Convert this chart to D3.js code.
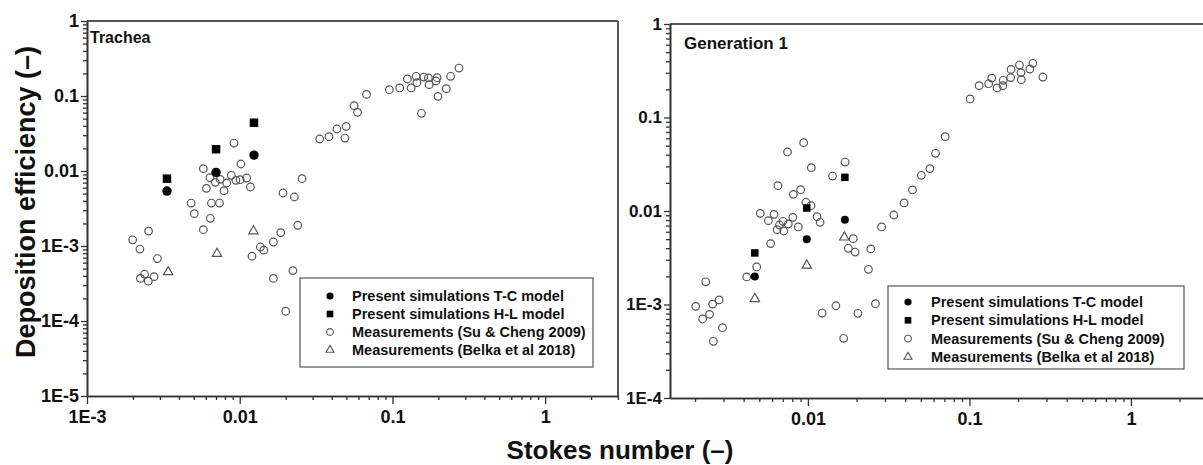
<!DOCTYPE html>
<html>
<head>
<meta charset="utf-8">
<script src="https://cdn.jsdelivr.net/npm/d3@7"></script>
<style>
  body { margin: 0; background: #fff; }
  svg { display: block; font-family: "Liberation Sans", Arial, sans-serif; font-weight: bold; }
</style>
</head>
<body>
<svg id="chart" width="1203" height="465"></svg>
<script>
// ---- data (Stokes number, deposition efficiency) ----
const tracheaTC = [[0.00334, 0.0054], [0.0070, 0.0096], [0.0124, 0.0163]];
const tracheaHL = [[0.00334, 0.0079], [0.0070, 0.0195], [0.0124, 0.044]];
const tracheaBelka = [[0.0034, 0.00045], [0.0071, 0.00079], [0.0123, 0.00158]];
const tracheaSu = [
  [0.00199, 0.00121], [0.00222, 0.00091], [0.00253, 0.00158], [0.00289, 0.00068],
  [0.00238, 0.00042], [0.00224, 0.00037], [0.00252, 0.00034], [0.00275, 0.00039],
  [0.00481, 0.00374], [0.00504, 0.0027], [0.00578, 0.01074], [0.00605, 0.00587],
  [0.00638, 0.00815], [0.00653, 0.00374], [0.00642, 0.00234], [0.00578, 0.00165],
  [0.00692, 0.00706], [0.00745, 0.00774], [0.00737, 0.00374], [0.00789, 0.00547],
  [0.00822, 0.00692], [0.00881, 0.00876], [0.00917, 0.0236], [0.00944, 0.00751],
  [0.01018, 0.0124], [0.01007, 0.00766], [0.0111, 0.00806], [0.01175, 0.00612],
  [0.01203, 0.00073], [0.01365, 0.00097], [0.01438, 0.00088], [0.01662, 0.00113],
  [0.01855, 0.00151], [0.0192, 0.00509], [0.0228, 0.0045], [0.024, 0.00189],
  [0.0256, 0.0079], [0.01662, 0.00037], [0.0223, 0.00047], [0.02, 0.000135],
  [0.0334, 0.0267], [0.0384, 0.0287], [0.0433, 0.0363], [0.0489, 0.0275],
  [0.0498, 0.0394], [0.0561, 0.0743], [0.0591, 0.0605], [0.0676, 0.105],
  [0.0955, 0.1214], [0.1116, 0.128], [0.1253, 0.1686], [0.1327, 0.128],
  [0.143, 0.183], [0.1446, 0.1507], [0.1603, 0.179], [0.172, 0.174],
  [0.174, 0.1416], [0.196, 0.1755], [0.193, 0.1585], [0.1987, 0.099],
  [0.155, 0.0588], [0.2254, 0.1253], [0.2404, 0.183], [0.273, 0.236]
];

const gen1TC = [[0.00469, 0.00199], [0.00984, 0.00498], [0.01694, 0.00808]];
const gen1HL = [[0.00469, 0.00356], [0.00984, 0.01076], [0.01694, 0.0229]];
const gen1Belka = [[0.00469, 0.00115], [0.00984, 0.00262], [0.0168, 0.00523]];
const gen1Su = [
  [0.00202, 0.000955], [0.00223, 0.0007], [0.00233, 0.00175], [0.00246, 0.000785],
  [0.00257, 0.00101], [0.00282, 0.00112], [0.0026, 0.000404], [0.00296, 0.000565],
  [0.00418, 0.00197], [0.00482, 0.00252], [0.00507, 0.00944], [0.00569, 0.00788],
  [0.00588, 0.00448], [0.00617, 0.00921], [0.00652, 0.01866], [0.00645, 0.00631],
  [0.00667, 0.00708], [0.007, 0.00776], [0.00708, 0.00611], [0.00748, 0.0428],
  [0.00756, 0.00726], [0.00807, 0.00855], [0.00812, 0.01507], [0.00872, 0.00675],
  [0.00901, 0.0169], [0.00941, 0.0538], [0.00973, 0.0124], [0.01045, 0.0114],
  [0.0105, 0.0291], [0.0114, 0.00869], [0.0119, 0.00757], [0.01225, 0.00081],
  [0.0142, 0.02366], [0.0149, 0.00097], [0.017, 0.0334], [0.01665, 0.000435],
  [0.0178, 0.00399], [0.0191, 0.00506], [0.0196, 0.00364], [0.0204, 0.000805],
  [0.0237, 0.00238], [0.0245, 0.00393], [0.0262, 0.00102], [0.0286, 0.00675],
  [0.034, 0.00906], [0.0394, 0.0122], [0.0444, 0.0168], [0.0504, 0.0241],
  [0.0569, 0.0284], [0.0617, 0.0414], [0.0708, 0.0624], [0.101, 0.158],
  [0.1148, 0.219], [0.1316, 0.23], [0.1375, 0.264], [0.1483, 0.207],
  [0.161, 0.219], [0.162, 0.25], [0.18, 0.267], [0.181, 0.327],
  [0.204, 0.364], [0.2085, 0.302], [0.2096, 0.254], [0.2366, 0.33],
  [0.247, 0.38], [0.285, 0.271]
];

const legendLabels = [
  "Present simulations T-C model",
  "Present simulations H-L model",
  "Measurements (Su & Cheng 2009)",
  "Measurements (Belka et al 2018)"
];

const tracheaXTicks = [1e-3, 1e-2, 1e-1, 1];
const tracheaYTicks = [1e-5, 1e-4, 1e-3, 1e-2, 1e-1, 1];
const gen1XTicks = [1e-2, 1e-1, 1];
const gen1YTicks = [1e-4, 1e-3, 1e-2, 1e-1, 1];

// ---- layout ----
const svg = d3.select("#chart");
const axisColor = "#333";
const grey = "#555";

const panels = [
  {
    title: "Trachea", titleSize: 16, titleX: 90, titleY: 43,
    tc: tracheaTC, hl: tracheaHL, su: tracheaSu, belka: tracheaBelka,
    xDomain: [1e-3, 3], yDomain: [1e-5, 1], xTicks: tracheaXTicks, yTicks: tracheaYTicks,
    left: 87, right: 618, top: 21, bottom: 396, yLabelSize: 18,
    dotR: 4.7, sq: 8.5,
    legend: { x: 300, y: 278, w: 293, h: 89, row0: 18, dy: 18, symX: 30, textX: 52 }
  },
  {
    title: "Generation 1", titleSize: 17, titleX: 684, titleY: 49,
    tc: gen1TC, hl: gen1HL, su: gen1Su, belka: gen1Belka,
    xDomain: [0.0014, 3], yDomain: [1e-4, 1], xTicks: gen1XTicks, yTicks: gen1YTicks,
    left: 670, right: 1208, top: 24, bottom: 398, yLabelSize: 17,
    dotR: 4, sq: 7.5,
    legend: { x: 888, y: 286, w: 296, h: 83, row0: 16, dy: 18.3, symX: 20, textX: 43 }
  }
];

function fmtTick(v) {
  if (v >= 0.01) return String(+v.toPrecision(1));
  return "1E" + Math.round(Math.log10(v));
}

function minorTicks(domain) {
  const out = [];
  const lo = Math.floor(Math.log10(domain[0])), hi = Math.ceil(Math.log10(domain[1]));
  for (let e = lo; e < hi; e++) {
    for (let k = 2; k <= 9; k++) {
      const v = k * Math.pow(10, e);
      if (v >= domain[0] && v <= domain[1]) out.push(v);
    }
  }
  return out;
}

const triangle = d3.symbol().type(d3.symbolTriangle);
const square = d3.symbol().type(d3.symbolSquare);

function styleAxis(sel) {
  sel.select(".domain").attr("stroke", axisColor).attr("stroke-width", 1.6);
  sel.selectAll(".tick line").attr("stroke", axisColor).attr("stroke-width", 1.3);
}

function drawPanel(p) {
  const x = d3.scaleLog().domain(p.xDomain).range([p.left, p.right]);
  const y = d3.scaleLog().domain(p.yDomain).range([p.bottom, p.top]);
  const g = svg.append("g");

  // frame (top + right)
  g.append("line")
    .attr("x1", p.left).attr("x2", p.right).attr("y1", p.top).attr("y2", p.top)
    .attr("stroke", grey).attr("stroke-width", 2);
  g.append("line")
    .attr("x1", p.right).attr("x2", p.right).attr("y1", p.top).attr("y2", p.bottom)
    .attr("stroke", grey).attr("stroke-width", 2);

  // minor ticks
  g.append("g").attr("transform", `translate(0,${p.bottom})`)
    .call(d3.axisBottom(x).tickValues(minorTicks(p.xDomain)).tickSize(4).tickSizeOuter(0).tickFormat(""))
    .call(styleAxis);
  g.append("g").attr("transform", `translate(${p.left},0)`)
    .call(d3.axisLeft(y).tickValues(minorTicks(p.yDomain)).tickSize(4).tickSizeOuter(0).tickFormat(""))
    .call(styleAxis);

  // major ticks
  const xa = g.append("g").attr("transform", `translate(0,${p.bottom})`)
    .call(d3.axisBottom(x).tickValues(p.xTicks).tickSize(8).tickSizeOuter(0).tickPadding(6).tickFormat(fmtTick))
    .call(styleAxis);
  xa.selectAll(".tick text")
    .attr("font-family", "'Liberation Sans', Arial, sans-serif").attr("font-weight", "bold")
    .attr("font-size", 18).attr("fill", "#111");

  const ya = g.append("g").attr("transform", `translate(${p.left},0)`)
    .call(d3.axisLeft(y).tickValues(p.yTicks).tickSize(6).tickSizeOuter(0).tickPadding(2).tickFormat(fmtTick))
    .call(styleAxis);
  ya.selectAll(".tick text")
    .attr("font-family", "'Liberation Sans', Arial, sans-serif").attr("font-weight", "bold")
    .attr("font-size", p.yLabelSize).attr("fill", "#111");

  // panel title
  g.append("text")
    .attr("x", p.titleX).attr("y", p.titleY)
    .attr("font-size", p.titleSize).attr("fill", "#111")
    .text(p.title);

  // measurements: Su & Cheng (open circles)
  g.append("g").selectAll("circle").data(p.su).join("circle")
    .attr("cx", d => x(d[0])).attr("cy", d => y(d[1])).attr("r", 3.8)
    .attr("fill", "none").attr("stroke", grey).attr("stroke-width", 1.2);

  // measurements: Belka (open triangles)
  g.append("g").selectAll("path").data(p.belka).join("path")
    .attr("transform", d => `translate(${x(d[0])},${y(d[1])})`)
    .attr("d", triangle.size(38)())
    .attr("fill", "none").attr("stroke", grey).attr("stroke-width", 1.2);

  // simulations H-L (squares)
  g.append("g").selectAll("path").data(p.hl).join("path")
    .attr("transform", d => `translate(${x(d[0])},${y(d[1])})`)
    .attr("d", square.size(p.sq * p.sq)())
    .attr("fill", "#000");

  // simulations T-C (filled circles)
  g.append("g").selectAll("circle").data(p.tc).join("circle")
    .attr("cx", d => x(d[0])).attr("cy", d => y(d[1])).attr("r", p.dotR)
    .attr("fill", "#000");

  // legend
  const L = p.legend;
  const lg = g.append("g").attr("transform", `translate(${L.x},${L.y})`);
  lg.append("rect").attr("width", L.w).attr("height", L.h)
    .attr("fill", "#fff").attr("stroke", grey).attr("stroke-width", 1.2);
  legendLabels.forEach((label, i) => {
    const cy = L.row0 + i * L.dy;
    const s = lg.append("g").attr("transform", `translate(${L.symX},${cy})`);
    if (i === 0) s.append("circle").attr("r", 3.6).attr("fill", "#000");
    if (i === 1) s.append("path").attr("d", square.size(44)()).attr("fill", "#000");
    if (i === 2) s.append("circle").attr("r", 3.4).attr("fill", "none").attr("stroke", grey).attr("stroke-width", 1.1);
    if (i === 3) s.append("path").attr("d", triangle.size(28)()).attr("fill", "none").attr("stroke", grey).attr("stroke-width", 1.1);
    lg.append("text").attr("x", L.textX).attr("y", cy).attr("dy", "0.35em")
      .attr("font-size", 14.5).attr("fill", "#111").text(label);
  });
}

panels.forEach(drawPanel);

// axis titles
svg.append("text")
  .attr("transform", "translate(35,202) rotate(-90)")
  .attr("text-anchor", "middle").attr("font-size", 27).attr("fill", "#111")
  .text("Deposition efficiency (–)");

svg.append("text")
  .attr("x", 620).attr("y", 459)
  .attr("text-anchor", "middle").attr("font-size", 26).attr("fill", "#111")
  .text("Stokes number (–)");
</script>
</body>
</html>
